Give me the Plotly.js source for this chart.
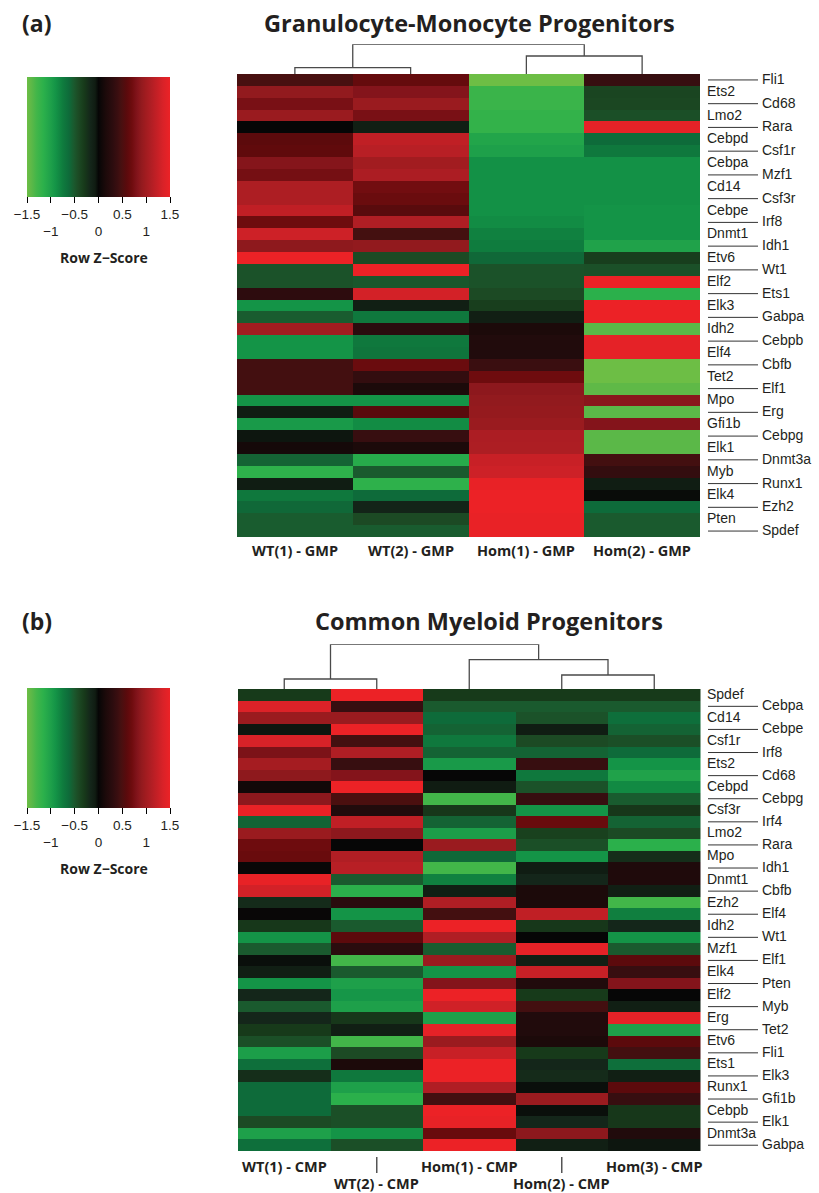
<!DOCTYPE html>
<html>
<head>
<meta charset="utf-8">
<script src="https://cdn.plot.ly/plotly-3.0.1.min.js"></script>
<style>html,body{margin:0;padding:0;background:#fff;}#chart{width:819px;height:1193px;}</style>
</head>
<body>
<div id="chart"></div>
<script>
// ---------------- DATA ----------------
const gmpSamples = ['WT(1) - GMP', 'WT(2) - GMP', 'Hom(1) - GMP', 'Hom(2) - GMP'];
const gmpGenes = ['Fli1','Ets2','Cd68','Lmo2','Rara','Cebpd','Csf1r','Cebpa','Mzf1','Cd14','Csf3r','Cebpe','Irf8','Dnmt1','Idh1','Etv6','Wt1','Elf2','Ets1','Elk3','Gabpa','Idh2','Cebpb','Elf4','Cbfb','Tet2','Elf1','Mpo','Erg','Gfi1b','Cebpg','Elk1','Dnmt3a','Myb','Runx1','Elk4','Ezh2','Pten','Spdef'];
const gmpWT1  = [0.48,0.9,0.76,0.95,0,0.6,0.62,0.83,0.74,1.08,1.08,1.2,0.7,1.28,0.88,1.5,-0.47,-0.47,0.3,-0.9,-0.53,1.0,-0.9,-0.9,0.45,0.45,0.45,-0.9,-0.08,-0.95,-0.05,0.1,-0.57,-1.17,-0.08,-0.72,-0.6,-0.53,-0.53];
const gmpWT2  = [0.65,0.82,0.95,0.76,-0.1,1.2,1.15,1.0,1.07,0.72,0.68,0.58,1.1,0.46,0.9,-0.42,1.5,-0.5,1.32,-0.1,-0.72,0.28,-0.72,-0.7,0.68,0.35,0.15,-0.9,0.58,-0.85,0.38,0.15,-1.1,-0.52,-1.17,-0.62,-0.15,-0.42,-0.53];
const gmpHom1 = [-1.5,-1.25,-1.25,-1.2,-1.2,-1.05,-1.0,-0.88,-0.88,-0.88,-0.88,-0.88,-0.85,-0.78,-0.75,-0.6,-0.47,-0.47,-0.42,-0.33,-0.1,0.15,0.2,0.2,0.4,0.7,0.87,0.9,0.92,0.95,1.07,1.08,1.25,1.28,1.47,1.5,1.5,1.48,1.48];
const gmpHom2 = [0.38,-0.38,-0.4,-0.45,1.45,-0.62,-0.72,-0.88,-0.88,-0.88,-0.88,-0.9,-0.9,-0.9,-1.02,-0.33,-0.46,1.5,-1.15,1.5,1.5,-1.4,1.45,1.45,-1.5,-1.5,-1.42,0.85,-1.4,0.82,-1.4,-1.4,0.45,0.35,-0.08,-0.02,-0.62,-0.52,-0.52];
// dendrogram merges: [childA, childB, height]; leaves 0..n-1, merged nodes n, n+1, ...
const gmpTree = [[0,1,6.3],[2,3,18],[4,5,29.7]];

const cmpSamples = ['WT(1) - CMP', 'WT(2) - CMP', 'Hom(1) - CMP', 'Hom(2) - CMP', 'Hom(3) - CMP'];
const cmpGenes = ['Spdef','Cebpa','Cd14','Cebpe','Csf1r','Irf8','Ets2','Cd68','Cebpd','Cebpg','Csf3r','Irf4','Lmo2','Rara','Mpo','Idh1','Dnmt1','Cbfb','Ezh2','Elf4','Idh2','Wt1','Mzf1','Elf1','Elk4','Pten','Elf2','Myb','Erg','Tet2','Etv6','Fli1','Ets1','Elk3','Runx1','Gfi1b','Cebpb','Elk1','Dnmt3a','Gabpa'];
const cmpWT1  = [-0.3,1.38,0.95,-0.05,1.35,0.78,1.02,0.88,0.08,0.87,1.48,-0.58,0.95,0.7,0.67,0.02,1.47,1.32,-0.2,0.02,-0.28,-0.9,-0.52,-0.03,-0.1,-0.9,-0.17,-0.52,-0.17,-0.3,-0.45,-0.98,-0.65,-0.22,-0.62,-0.62,-0.62,-0.42,-1.0,-0.65];
const cmpWT2  = [1.5,0.38,0.95,1.5,0.46,1.1,0.38,0.82,1.5,0.5,0.2,1.2,0.87,0,1.1,1.15,-0.52,-1.15,0.28,-0.9,-0.52,0.6,0.28,-1.3,-0.52,-1.0,-0.92,-1.0,-0.28,-0.1,-1.3,-0.42,0.15,-0.72,-1.0,-1.15,-0.45,-0.45,-0.9,-0.45];
const cmpHom1 = [-0.3,-0.52,-0.62,-0.57,-0.72,-0.57,-0.95,0,-0.07,-1.3,-0.28,-0.57,-0.98,0.95,-0.6,-1.3,-0.78,-0.1,1.1,0.45,1.5,1.1,-0.53,0.95,-0.9,0.82,1.5,1.3,-1.0,1.45,0.95,1.25,1.5,1.5,1.1,0.45,1.5,1.47,0.67,1.5];
const cmpHom2 = [-0.3,-0.52,-0.47,-0.08,-0.42,-0.57,0.38,-0.72,-0.47,0.38,-0.9,0.67,-0.35,-0.45,-0.9,-0.08,-0.17,0.15,0.15,1.2,-0.28,0,1.45,-0.1,1.25,0.2,-0.3,0.45,0.2,0.2,0.15,-0.3,-0.17,-0.2,-0.03,0.95,-0.03,-0.17,0.87,-0.1];
const cmpHom3 = [-0.3,-0.52,-0.65,-0.57,-0.45,-0.62,-0.9,-1.02,-0.84,-0.53,-0.28,-0.57,-0.42,-1.15,-0.22,0.18,0.18,-0.1,-1.3,-0.77,-0.17,-0.9,-0.52,0.6,0.38,0.82,0,-0.1,1.45,-1.0,0.6,0.45,-0.65,-0.1,0.6,0.38,-0.28,-0.28,0.2,-0.05];
const cmpTree = [[0,1,10],[3,4,14],[2,6,29.3],[5,7,44.7]];

const legendTicks = [-1.5,-1,-0.5,0,0.5,1,1.5];
const legendTickText = ['\u22121.5','<br>\u22121','\u22120.5','<br>0','0.5','<br>1','1.5'];

// ---------------- STYLE ----------------
const W = 819, H = 1193;
const px = v => v / W;
const py = v => 1 - v / H;
const zStops = [[-1.5,'#6dbe45'],[-1.4,'#5bb848'],[-1.3,'#42b649'],[-1.15,'#2bb04b'],[-1.0,'#1ea04a'],[-0.9,'#149447'],[-0.75,'#0f7c3e'],[-0.62,'#0e6b3a'],[-0.52,'#1a5a2e'],[-0.42,'#1c4a24'],[-0.3,'#173a1a'],[-0.17,'#14261a'],[-0.07,'#101c12'],[0,'#060606'],[0.15,'#1c0a0a'],[0.28,'#2a0c0e'],[0.4,'#3a0e10'],[0.47,'#461010'],[0.6,'#5c0a0c'],[0.7,'#6e0c0e'],[0.8,'#80131a'],[0.9,'#921a1e'],[1.0,'#a21c20'],[1.1,'#b01e24'],[1.25,'#c82026'],[1.35,'#d82228'],[1.5,'#ec2226']];
const colorscale = zStops.map(([z,c]) => [(z + 1.5) / 3, c]);
const txt = '#231f20';
const geneFont = {family:'Liberation Sans, Arial, sans-serif', size:14, color:txt};
const boldFont = sz => ({family:'Open Sans, sans-serif', size:sz, color:txt});

function rows(cols){ return cols[0].map((_, r) => cols.map(c => c[r])); }
function dendro(nLeaves, merges){
  const pos = [];
  for (let i = 0; i < nLeaves; i++) pos.push([i, 0]);
  const xs = [], ys = [];
  merges.forEach(([a, b, h]) => {
    const [xa, ha] = pos[a], [xb, hb] = pos[b];
    xs.push(xa, xa, xb, xb, null); ys.push(ha, h, h, hb, null);
    pos.push([(xa + xb) / 2, h]);
  });
  return {xs, ys, max: Math.max(...merges.map(m => m[2]))};
}
function colorbar(topPx){
  return {orientation:'h', x:px(27), xanchor:'left', y:py(topPx), yanchor:'top',
    len:143, lenmode:'pixels', thickness:120, thicknessmode:'pixels',
    outlinewidth:0, xpad:0, ypad:0, ticks:'outside', ticklen:6, tickwidth:1, tickcolor:'#000',
    tickvals:legendTicks, ticktext:legendTickText,
    tickfont:{family:'Liberation Sans, Arial, sans-serif', size:13.5, color:txt}, title:{text:''}};
}

const dA = dendro(gmpSamples.length, gmpTree);
const dB = dendro(cmpSamples.length, cmpTree);

const traces = [
  {type:'heatmap', x:gmpSamples.map((_, i) => i), y:gmpGenes.map((_, i) => i),
   z:rows([gmpWT1, gmpWT2, gmpHom1, gmpHom2]), zmin:-1.5, zmax:1.5, colorscale,
   xaxis:'x', yaxis:'y', hoverinfo:'skip', colorbar:colorbar(77)},
  {type:'heatmap', x:cmpSamples.map((_, i) => i), y:cmpGenes.map((_, i) => i),
   z:rows([cmpWT1, cmpWT2, cmpHom1, cmpHom2, cmpHom3]), zmin:-1.5, zmax:1.5, colorscale,
   xaxis:'x2', yaxis:'y2', hoverinfo:'skip', colorbar:colorbar(688)},
  {type:'scatter', mode:'lines', x:dA.xs, y:dA.ys, xaxis:'x3', yaxis:'y3',
   line:{color:'#4a4a4a', width:1.3}, hoverinfo:'skip', cliponaxis:false},
  {type:'scatter', mode:'lines', x:dB.xs, y:dB.ys, xaxis:'x4', yaxis:'y4',
   line:{color:'#4a4a4a', width:1.3}, hoverinfo:'skip', cliponaxis:false}
];

const annotations = [];
const shapes = [];
function geneLabels(genes, yref, rightFirst){
  genes.forEach((g, i) => {
    const right = (i % 2 === 0) === rightFirst;
    annotations.push({text:g, xref:'paper', yref:yref, x:px(right ? 760 : 705), y:i,
      xanchor:'left', yanchor:'middle', showarrow:false, font:geneFont, yshift:1});
    if (right) shapes.push({type:'line', xref:'paper', yref:yref, x0:px(708), x1:px(758), y0:i, y1:i,
      line:{color:'#333', width:1}});
  });
}
geneLabels(gmpGenes, 'y', true);
geneLabels(cmpGenes, 'y2', false);

gmpSamples.forEach((s, i) => annotations.push({text:'<b>' + s + '</b>', xref:'x', yref:'paper', x:i, y:py(550),
  xanchor:'center', yanchor:'middle', showarrow:false, font:boldFont(14.5)}));
cmpSamples.forEach((s, i) => {
  annotations.push({text:'<b>' + s + '</b>', xref:'x2', yref:'paper', x:i, y:py(i % 2 ? 1183 : 1166),
    xanchor:'center', yanchor:'middle', showarrow:false, font:boldFont(14.5), borderpad:0});
  if (i % 2) shapes.push({type:'line', xref:'x2', yref:'paper', x0:i, x1:i, y0:py(1157), y1:py(1173),
    line:{color:'#555', width:1.5}});
});

[['(a)', 23, 'Granulocyte-Monocyte Progenitors', 470, 257],
 ['(b)', 621, 'Common Myeloid Progenitors', 489, 868]].forEach(([lab, y, title, tx, zy]) => {
  annotations.push({text:'<b>' + lab + '</b>', xref:'paper', yref:'paper', x:px(20), y:py(y),
    xanchor:'left', yanchor:'middle', showarrow:false, font:boldFont(23)});
  annotations.push({text:'<b>' + title + '</b>', xref:'paper', yref:'paper', x:px(tx), y:py(y),
    xanchor:'center', yanchor:'middle', showarrow:false, font:boldFont(23.5)});
  annotations.push({text:'<b>Row Z\u2212Score</b>', xref:'paper', yref:'paper', x:px(104), y:py(zy),
    xanchor:'center', yanchor:'middle', showarrow:false, font:boldFont(14)});
});

const hid = {visible:false, fixedrange:true};
const layout = {
  width:W, height:H, margin:{l:0, r:0, t:0, b:0},
  paper_bgcolor:'#fff', plot_bgcolor:'rgba(0,0,0,0)', showlegend:false,
  xaxis:Object.assign({domain:[px(237), px(700)], range:[-0.5, gmpSamples.length - 0.5], anchor:'y'}, hid),
  yaxis:Object.assign({domain:[py(537), py(74)], range:[gmpGenes.length - 0.5, -0.5], anchor:'x'}, hid),
  xaxis2:Object.assign({domain:[px(238), px(700.5)], range:[-0.5, cmpSamples.length - 0.5], anchor:'y2'}, hid),
  yaxis2:Object.assign({domain:[py(1151), py(689)], range:[cmpGenes.length - 0.5, -0.5], anchor:'x2'}, hid),
  xaxis3:Object.assign({domain:[px(237), px(700)], range:[-0.5, gmpSamples.length - 0.5], anchor:'y3'}, hid),
  yaxis3:Object.assign({domain:[py(74), py(44.3)], range:[0, dA.max], anchor:'x3'}, hid),
  xaxis4:Object.assign({domain:[px(238), px(700.5)], range:[-0.5, cmpSamples.length - 0.5], anchor:'y4'}, hid),
  yaxis4:Object.assign({domain:[py(689), py(644.3)], range:[0, dB.max], anchor:'x4'}, hid),
  annotations, shapes
};
Plotly.newPlot('chart', traces, layout, {staticPlot:true, displayModeBar:false});
</script>
</body>
</html>
